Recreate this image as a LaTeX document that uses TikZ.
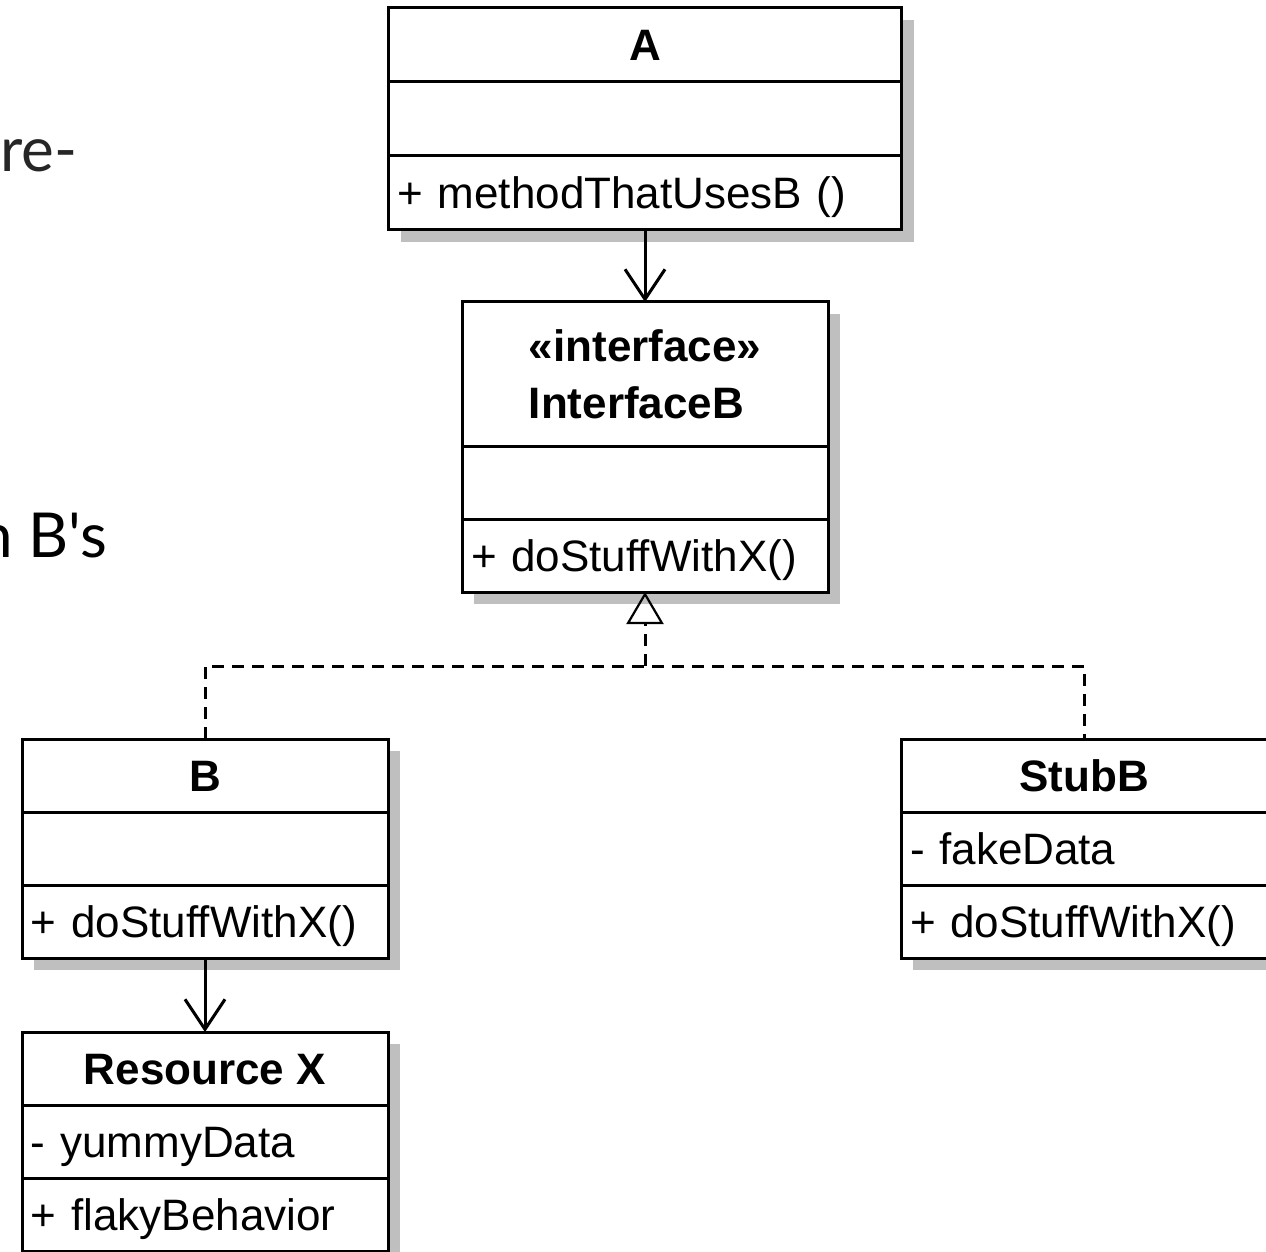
\documentclass[tikz,border=0pt]{standalone}
\usepackage{fontspec}
\setmainfont{Liberation Sans}
\newfontfamily\slidefont{Lato}
\usetikzlibrary{arrows.meta,positioning,shadows}
\newcommand\umlfont{\fontsize{22}{28.5}\selectfont}

\begin{document}
\begin{tikzpicture}[x=0.5pt,y=-0.5pt,
	umlpart/.style={draw,line width=1.5pt,fill=white,outer sep=0pt,inner xsep=4.5pt,inner ysep=0pt,
		minimum height=36.5pt,text height=15.8pt,text depth=0pt,font=\umlfont,
		drop shadow={shadow xshift=6pt,shadow yshift=-6pt,fill=black!25,opacity=1}},
	umltitle/.style={umlpart,minimum width=#1,font=\umlfont\bfseries},
	umltitle/.default=183pt,
	umlmember/.style={umlpart,text width=#1,align=left},
	umlmember/.default=174pt,
	uses/.style={line width=1.5pt,-{Straight Barb[length=15pt,width=20pt]}},
	realize/.style={line width=1.5pt,dash pattern=on 6pt off 4pt},
	realizetip/.style={realize,-{Triangle[open,length=16pt,width=18.5pt,line width=1.1pt]}}]
	\path[use as bounding box,fill=white] (0,0) rectangle (1266,1252);
	\clip (0,0) rectangle (1266,1252);

	\node[anchor=base east,inner sep=0pt,text=black!85,font=\slidefont\fontsize{31}{37}\selectfont] (slidetop) at (78,172) {re-};
	\node[anchor=base east,inner sep=0pt,font=\slidefont\fontsize{31}{37}\selectfont] (slidemid) at (108,557) {n B's};

	\node[umltitle=256.5pt,minimum height=37pt] (Atitle) at (645,45) {A};
	\node[umlmember=247.5pt,minimum height=37pt,below=0pt of Atitle] (Aattr) {};
	\node[umlmember=247.5pt,minimum height=37pt,below=0pt of Aattr] (Aop) {+ methodThatUsesB ()};

	\node[umltitle,minimum height=72pt,text height={},text depth={},align=left] (IBtitle) at (645,374) {«interface»\\InterfaceB};
	\node[umlmember,below=0pt of IBtitle] (IBattr) {};
	\node[umlmember,below=0pt of IBattr] (IBop) {+ doStuffWithX()};

	\node[umltitle] (Btitle) at (205,775.5) {B};
	\node[umlmember,below=0pt of Btitle] (Battr) {};
	\node[umlmember,below=0pt of Battr] (Bop) {+ doStuffWithX()};

	\node[umltitle] (StubBtitle) at (1084,775.5) {StubB};
	\node[umlmember,below=0pt of StubBtitle] (StubBattr) {- fakeData};
	\node[umlmember,below=0pt of StubBattr] (StubBop) {+ doStuffWithX()};

	\node[umltitle] (ResXtitle) at (205,1068.5) {Resource X};
	\node[umlmember,below=0pt of ResXtitle] (ResXattr) {- yummyData};
	\node[umlmember,below=0pt of ResXattr] (ResXop) {+ flakyBehavior};

	\coordinate (join) at (645,666);
	\draw[uses] (Aop.south) -- (IBtitle.north);
	\draw[uses] (Bop.south) -- (ResXtitle.north);
	\draw[realize] (Btitle.north) |- (join) -| (StubBtitle.north);
	\draw[realizetip] (join) -- (IBop.south);
\end{tikzpicture}
\end{document}
